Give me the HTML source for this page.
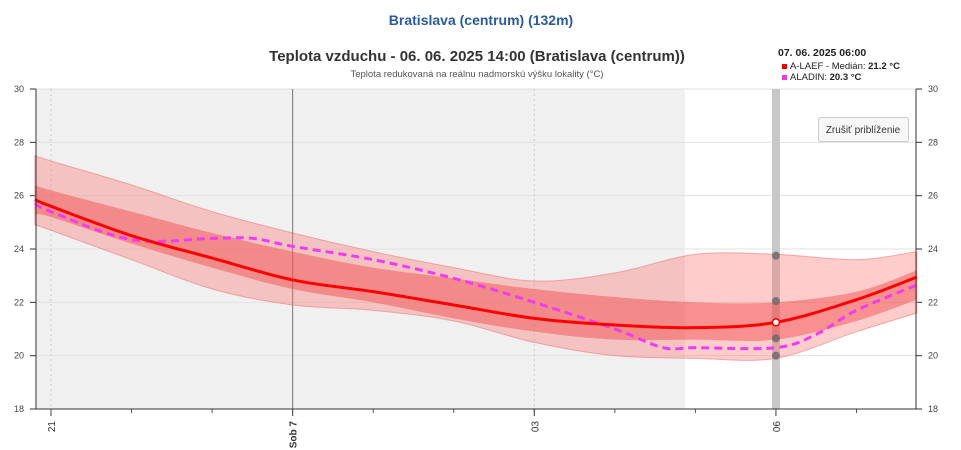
<!DOCTYPE html>
<html><head><meta charset="utf-8">
<style>
body{margin:0;background:#fff;font-family:"Liberation Sans",sans-serif;}
svg{display:block}
</style></head><body>
<svg width="961" height="450" id="chart" font-family="Liberation Sans, sans-serif">
<text x="481" y="25" text-anchor="middle" font-size="14" font-weight="bold" fill="#2a5a9a">Bratislava (centrum) (132m)</text>
<text x="477" y="61" text-anchor="middle" font-size="15" font-weight="bold" fill="#333">Teplota vzduchu - 06. 06. 2025 14:00 (Bratislava (centrum))</text>
<text x="477" y="77" text-anchor="middle" font-size="9.5" fill="#555">Teplota redukovaná na reálnu nadmorskú výšku lokality (°C)</text>
<g>
<text x="778" y="56" font-size="10.5" font-weight="bold" fill="#222">07. 06. 2025 06:00</text>
<rect x="782" y="64" width="5" height="5" fill="#e00"/>
<text x="790" y="69" font-size="9.5" fill="#222">A-LAEF - Medián: <tspan font-weight="bold">21.2 °C</tspan></text>
<rect x="782" y="75" width="5" height="5" fill="#e040e0"/>
<text x="790" y="80" font-size="9.5" fill="#222">ALADIN: <tspan font-weight="bold">20.3 °C</tspan></text>
</g>
<g id="plot"></g>
<g>
<rect x="818.5" y="117.5" width="90" height="24" rx="2" fill="#f7f7f7" stroke="#ccc"/>
<text x="863" y="133" text-anchor="middle" font-size="10" fill="#333">Zrušiť priblíženie</text>
</g>
</svg>
<script>
const hours=[-0.2,0,1,2,3,4,5,6,7,8,9,10,10.75];
const median=[25.85,25.6,24.5,23.66,22.84,22.4,21.9,21.4,21.15,21.05,21.25,22.1,22.95];
const innerLow=[25.3,25.2,24.2,23.3,22.5,22.0,21.4,20.9,20.6,20.6,20.6,21.3,22.1];
const innerHigh=[26.4,26.2,25.4,24.6,23.9,23.3,22.9,22.5,22.2,22.0,22.0,22.4,23.2];
const outerLow=[24.9,24.7,23.6,22.5,21.9,21.7,21.3,20.5,20.0,19.9,19.9,20.9,21.6];
const outerHigh=[27.5,27.3,26.4,25.4,24.6,23.9,23.3,22.8,23.1,23.8,23.8,23.6,23.9];
const aladinHours=[-0.2,0,1,2,2.5,3,4,5,6,7,7.6,8,9,9.5,10,10.75];
const aladin=[25.7,25.4,24.35,24.4,24.4,24.1,23.6,22.9,22.0,21.0,20.3,20.3,20.3,20.8,21.7,22.65];
const pointValues=[23.75,22.05,21.25,20.65,20.0];
const yTicks=[18,20,22,24,26,28,30];
const xTickHours=[0,3,6,9];
const xTickLabels=["21","Sob 7","03","06"];
const X0=36,X1=916,Y0=89,Y1=409;
const x=h=>51+h*80.55;
const y=v=>Y1-(v-18)/12*(Y1-Y0);
const NS="http://www.w3.org/2000/svg";
const g=document.getElementById('plot');
function el(t,a){const e=document.createElementNS(NS,t);for(const k in a)e.setAttribute(k,a[k]);g.appendChild(e);return e;}
function spline(pts){let d="M"+pts[0][0]+","+pts[0][1];for(let i=0;i<pts.length-1;i++){const p0=pts[i-1]||pts[i],p1=pts[i],p2=pts[i+1],p3=pts[i+2]||p2;const t=6;d+=" C"+(p1[0]+(p2[0]-p0[0])/t)+","+(p1[1]+(p2[1]-p0[1])/t)+" "+(p2[0]-(p3[0]-p1[0])/t)+","+(p2[1]-(p3[1]-p1[1])/t)+" "+p2[0]+","+p2[1];}return d;}
function band(hs,lo,hi){const top=hs.map((h,i)=>[x(h),y(hi[i])]);const bot=hs.map((h,i)=>[x(h),y(lo[i])]).reverse();return spline(top)+" L"+spline(bot).slice(1)+" Z";}
let e;
e=el('rect',{x:X0,y:Y0,width:x(7.87)-X0,height:Y1-Y0,fill:'#f0f0f0'});


yTicks.forEach(v=>{
 e=el('line',{x1:X0,x2:X1,y1:y(v),y2:y(v),stroke:'#e2e2e2'});
 
 
 e=el('text',{x:X0-12,y:y(v)+3,'text-anchor':'end','font-size':9,fill:'#444'});e.textContent=v;
 
 
 e=el('text',{x:X1+12,y:y(v)+3,'font-size':9,fill:'#444'});e.textContent=v;
 
 
 el('line',{x1:X0-6,x2:X0,y1:y(v),y2:y(v),stroke:'#333'});
 el('line',{x1:X1,x2:X1+6,y1:y(v),y2:y(v),stroke:'#333'});
});
xTickHours.forEach((h,i)=>{
 e=el('line',{x1:x(h),x2:x(h),y1:Y0,y2:Y1,stroke:i==1?'#777':'#ccc','stroke-dasharray':i==1?'':'2,3'});
 
 
 el('line',{x1:x(h),x2:x(h),y1:Y1,y2:Y1+7,stroke:'#333'});
 e=el('text',{transform:`translate(${x(h)+4},${Y1+12}) rotate(-90)`,'text-anchor':'end','font-size':10,fill:'#333','font-weight':i==1?'bold':'normal'});e.textContent=xTickLabels[i];
 
 
});
for(let h=-0.2;h<=10.75;h+=1){const hh=Math.round(h);if(hh<0)continue;el('line',{x1:x(hh),x2:x(hh),y1:Y1,y2:Y1+4,stroke:'#555'});}
e=el('rect',{x:x(9)-4,y:Y0,width:8,height:Y1-Y0,fill:'#c8c8c8'});


e=el('path',{d:band(hours,outerLow,outerHigh),fill:'rgba(255,110,110,0.35)',stroke:'rgba(240,120,120,0.6)','stroke-width':1});


e=el('path',{d:band(hours,innerLow,innerHigh),fill:'rgba(240,70,70,0.45)',stroke:'none'});


e=el('path',{d:spline(aladinHours.map((h,i)=>[x(h),y(aladin[i])])),fill:'none',stroke:'#f03cf0','stroke-width':3,'stroke-dasharray':'8,5'});


e=el('path',{d:spline(hours.map((h,i)=>[x(h),y(median[i])])),fill:'none',stroke:'#f00','stroke-width':3});


pointValues.forEach((v,i)=>{
 e=el('circle',{cx:x(9),cy:y(v),r:i==2?3.5:4,fill:i==2?'#fff':'#666','fill-opacity':i==2?1:0.8,stroke:i==2?'#e00':'none','stroke-width':1.5});
 
 
});
el('line',{x1:X0,x2:X0,y1:Y0,y2:Y1,stroke:'#333'});
el('line',{x1:X1,x2:X1,y1:Y0,y2:Y1,stroke:'#333'});
el('line',{x1:X0-6,x2:X1+6,y1:Y1,y2:Y1,stroke:'#333'});
</script>
</body></html>
